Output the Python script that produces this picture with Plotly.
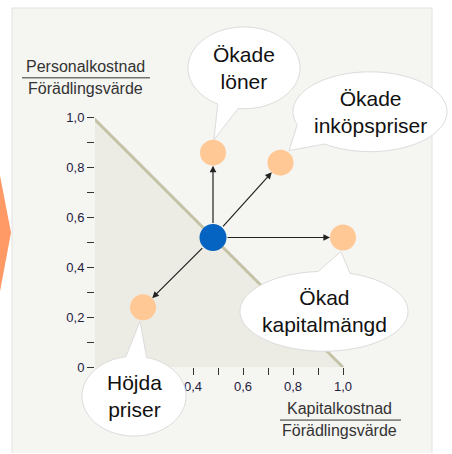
import numpy as np
import plotly.graph_objects as go

W, H = 452, 454          # reference picture size (all geometry below is in these pixels)
FIG_H = 461              # the viewer's viewport is a little taller than 454; fill it

# ---- data ----
start_point = (0.48, 0.52)
end_x = [0.48, 0.75, 1.00, 0.20]
end_y = [0.86, 0.82, 0.52, 0.24]
line_x = [0.0, 1.0]
line_y = [1.0, 0.0]
tick_vals = [0.0, 0.1, 0.2, 0.3, 0.4, 0.5, 0.6, 0.7, 0.8, 0.9, 1.0]
y_tick_text = ["0", "", "0,2", "", "0,4", "", "0,6", "", "0,8", "", "1,0"]
# "0" and "0,2" on the x axis are hidden behind the "Höjda priser" bubble in the original
x_tick_text = ["", "", "", "", "0,4", "", "0,6", "", "0,8", "", "1,0"]
bubble_labels = ["Ökade<br>löner", "Ökade<br>inköpspriser", "Ökad<br>kapitalmängd", "Höjda<br>priser"]

FONT = "Liberation Sans, Arial, sans-serif"


def px(x):
    return x / W


def py(y):
    return 1 - y / H


# plot area in pixels
XORIG = 93               # pixel of x = 0
X0, X1 = 95, 362         # white plot area
Y0, Y1 = 368, 100
UNIT = 250

fig = go.Figure()

# diagonal with shaded triangle
fig.add_trace(go.Scatter(x=line_x, y=line_y, mode="lines", fill="tozeroy",
                         fillcolor="#ECEBE4", line=dict(color="#C4C3A7", width=3),
                         hoverinfo="skip", showlegend=False))
# end points
fig.add_trace(go.Scatter(x=end_x, y=end_y, mode="markers",
                         marker=dict(size=26, color="#FFC895", line=dict(width=0)),
                         hoverinfo="skip", showlegend=False))
# start point
fig.add_trace(go.Scatter(x=[start_point[0]], y=[start_point[1]], mode="markers",
                         marker=dict(size=27, color="#0563C1", line=dict(width=0)),
                         hoverinfo="skip", showlegend=False))

annotations = []
for ex, ey in zip(end_x, end_y):
    annotations.append(dict(x=ex, y=ey, xref="x", yref="y",
                            ax=start_point[0], ay=start_point[1], axref="x", ayref="y",
                            showarrow=True, arrowhead=2, arrowsize=1.1, arrowwidth=1.2,
                            arrowcolor="#222222", standoff=13, startstandoff=13, text=""))

shapes = []
# background panel (fill up to the bottom edge, border on three sides)
shapes.append(dict(type="rect", xref="paper", yref="paper", x0=px(12), x1=px(432),
                   y0=py(8), y1=0, fillcolor="#F5F5F2",
                   line=dict(width=0), layer="below"))
shapes.append(dict(type="path", xref="paper", yref="paper", layer="below",
                   path=f"M {px(12)} 0 L {px(12)} {py(8)} L {px(432)} {py(8)} L {px(432)} 0",
                   line=dict(color="#E2E2E2", width=1)))
# left chevron
shapes.append(dict(type="path", xref="paper", yref="paper", layer="below",
                   path=f"M 0 {py(176)} L {px(11)} {py(233)} L 0 {py(292)} Z",
                   fillcolor="#FF9A66", line=dict(width=0)))


def bubble(cx, cy, rx, ry, t1, t2, tip):
    pts = []
    ts = np.linspace(t2, t1 + 360, 90)
    for t in ts:
        r = np.radians(t)
        pts.append((cx + rx * np.cos(r), cy + ry * np.sin(r)))
    pts.append(tip)
    d = "M " + " L ".join(f"{px(a):.5f} {py(b):.5f}" for a, b in pts) + " Z"
    return dict(type="path", xref="paper", yref="paper", layer="above", path=d,
                fillcolor="white", line=dict(color="#DCDCDC", width=1))


bubbles = [
    (244, 68, 56, 41, 96, 118, (214, 140)),
    (370, 112, 77, 40, 126, 161, (289, 151)),
    (324, 312, 84, 40, 266, 288, (341, 252)),
    (134, 397, 52, 40, 261, 284, (140, 322)),
]
for (cx, cy, rx, ry, t1, t2, tip), lab in zip(bubbles, bubble_labels):
    shapes.append(bubble(cx, cy, rx, ry, t1, t2, tip))
    annotations.append(dict(x=px(cx), y=py(cy), xref="paper", yref="paper",
                            text=lab, showarrow=False, align="center",
                            font=dict(family=FONT, size=21, color="#111111"),
                            xanchor="center", yanchor="middle"))

# axis title fractions
for (cx, ytop, ybot, yline, xl0, xl1, top) in [
    (85, 67, 89, 78, 22, 150, "Personalkostnad"),
    (339, 409, 431, 421, 280, 401, "Kapitalkostnad"),
]:
    annotations.append(dict(x=px(cx), y=py(ytop), xref="paper", yref="paper", text=top,
                            showarrow=False, font=dict(family=FONT, size=16, color="#333333"),
                            xanchor="center", yanchor="middle"))
    annotations.append(dict(x=px(cx), y=py(ybot), xref="paper", yref="paper", text="Förädlingsvärde",
                            showarrow=False, font=dict(family=FONT, size=16, color="#333333"),
                            xanchor="center", yanchor="middle"))
    shapes.append(dict(type="line", xref="paper", yref="paper", x0=px(xl0), x1=px(xl1),
                       y0=py(yline), y1=py(yline), line=dict(color="#333333", width=1)))

axis_common = dict(showgrid=False, zeroline=False, showline=False, ticks="outside",
                   ticklen=7, tickwidth=1.3, tickcolor="#333333",
                   tickfont=dict(family=FONT, size=13, color="#1F2040"),
                   tickvals=tick_vals, fixedrange=True)

fig.update_layout(
    width=W, height=FIG_H,
    margin=dict(l=0, r=0, t=0, b=0),
    paper_bgcolor="white",
    plot_bgcolor="white",
    xaxis=dict(domain=[px(X0), px(X1)],
               range=[(X0 - XORIG) / UNIT, (X1 - XORIG) / UNIT],
               ticktext=x_tick_text, **axis_common),
    yaxis=dict(domain=[py(Y0), py(Y1)], range=[0, (Y0 - Y1) / UNIT],
               ticktext=y_tick_text, **axis_common),
    shapes=shapes,
    annotations=annotations,
    showlegend=False,
)

fig.write_html("out.html", config={"displayModeBar": False},
               post_script="document.body.style.margin='0';document.body.style.overflow='hidden';")
